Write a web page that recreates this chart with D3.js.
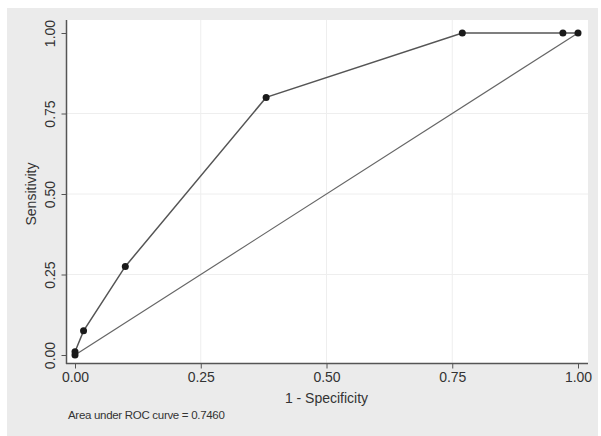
<!DOCTYPE html>
<html>
<head>
<meta charset="utf-8">
<script src="https://cdn.jsdelivr.net/npm/d3@7"></script>
<style>
  body { margin: 0; background: #fff; }
  text { font-family: "Liberation Sans", Arial, sans-serif; fill: #333; }
</style>
</head>
<body>
<div id="chart"></div>
<script>
// ROC points
var fpr = [0, 0, 0.017, 0.10, 0.38, 0.77, 0.97, 1];
var tpr = [0, 0.01, 0.075, 0.275, 0.80, 1, 1, 1];
var tickVals = [0, 0.25, 0.5, 0.75, 1];
var tickLabels = ["0.00", "0.25", "0.50", "0.75", "1.00"];
var xTitle = "1 - Specificity";
var yTitle = "Sensitivity";
var note = "Area under ROC curve = 0.7460";

var W = 601, H = 436;
var plot = { left: 66, right: 588, top: 20, bottom: 363 };

var svg = d3.select("#chart")
    .append("svg")
    .attr("width", W)
    .attr("height", H);

// outer graph region
svg.append("rect")
    .attr("x", 7).attr("y", 8)
    .attr("width", 591).attr("height", 428)
    .attr("fill", "#ebebeb");

// plot region
svg.append("rect")
    .attr("x", plot.left).attr("y", plot.top)
    .attr("width", plot.right - plot.left).attr("height", plot.bottom - plot.top)
    .attr("fill", "#fff");

var x = d3.scaleLinear().domain([0, 1]).range([75, 578]);
var y = d3.scaleLinear().domain([0, 1]).range([355, 33]);

// faint grid
svg.append("g").selectAll("line.gx")
    .data(tickVals.slice(1, 4))
    .enter().append("line")
    .attr("x1", function (d) { return x(d); })
    .attr("x2", function (d) { return x(d); })
    .attr("y1", plot.top).attr("y2", plot.bottom)
    .attr("stroke", "#eeeeee").attr("stroke-width", 1);
svg.append("g").selectAll("line.gy")
    .data(tickVals.slice(1, 4))
    .enter().append("line")
    .attr("y1", function (d) { return y(d); })
    .attr("y2", function (d) { return y(d); })
    .attr("x1", plot.left).attr("x2", plot.right)
    .attr("stroke", "#eeeeee").attr("stroke-width", 1);

// axes
var xAxis = d3.axisBottom(x)
    .tickValues(tickVals)
    .tickFormat(function (d, i) { return tickLabels[i]; })
    .tickSizeOuter(0).tickSize(5).tickPadding(4);
var gx = svg.append("g")
    .attr("transform", "translate(0," + (plot.bottom + 0.5) + ")")
    .call(xAxis);
gx.select(".domain").remove();
gx.selectAll("line").attr("stroke", "#555");
gx.selectAll("text")
    .attr("font-size", 14)
    .attr("fill", "#333")
    .attr("font-family", "Liberation Sans, Arial, sans-serif");

var yAxis = d3.axisLeft(y)
    .tickValues(tickVals)
    .tickFormat(function (d, i) { return tickLabels[i]; })
    .tickSizeOuter(0).tickSize(5);
var gy = svg.append("g")
    .attr("transform", "translate(" + (plot.left + 0.5) + ",0)")
    .call(yAxis);
gy.select(".domain").remove();
gy.selectAll("line").attr("stroke", "#555");
gy.selectAll("text")
    .attr("x", null).attr("dy", null)
    .attr("font-size", 14)
    .attr("fill", "#333")
    .attr("font-family", "Liberation Sans, Arial, sans-serif")
    .attr("text-anchor", "middle")
    .attr("transform", "translate(-12,0) rotate(-90)");

svg.append("line")
    .attr("x1", plot.left + 0.5).attr("x2", plot.left + 0.5)
    .attr("y1", plot.top).attr("y2", plot.bottom + 1)
    .attr("stroke", "#555").attr("stroke-width", 1.5);
svg.append("line")
    .attr("x1", plot.left).attr("x2", plot.right)
    .attr("y1", plot.bottom + 0.5).attr("y2", plot.bottom + 0.5)
    .attr("stroke", "#555").attr("stroke-width", 1.5);

// reference diagonal
svg.append("path")
    .datum([0, 1])
    .attr("d", d3.line()
        .x(function (d) { return x(d); })
        .y(function (d) { return y(d); }))
    .attr("stroke", "#666")
    .attr("stroke-width", 1.2)
    .attr("fill", "none");

// ROC curve
var pts = fpr.map(function (d, i) { return [d, tpr[i]]; });
svg.append("path")
    .datum(pts)
    .attr("d", d3.line()
        .x(function (d) { return x(d[0]); })
        .y(function (d) { return y(d[1]); }))
    .attr("stroke", "#555")
    .attr("stroke-width", 1.5)
    .attr("fill", "none");

svg.append("g").selectAll("circle")
    .data(pts)
    .enter().append("circle")
    .attr("cx", function (d) { return x(d[0]); })
    .attr("cy", function (d) { return y(d[1]); })
    .attr("r", 3.5)
    .attr("fill", "#1a1a1a");

// titles
svg.append("text")
    .attr("x", x(0.5)).attr("y", 403)
    .attr("text-anchor", "middle")
    .attr("font-size", 14)
    .text(xTitle);

svg.append("text")
    .attr("transform", "translate(36," + y(0.5) + ") rotate(-90)")
    .attr("text-anchor", "middle")
    .attr("font-size", 14)
    .text(yTitle);

svg.append("text")
    .attr("x", 68).attr("y", 419)
    .attr("font-size", 11.5)
    .attr("letter-spacing", -0.3)
    .text(note);
</script>
</body>
</html>
